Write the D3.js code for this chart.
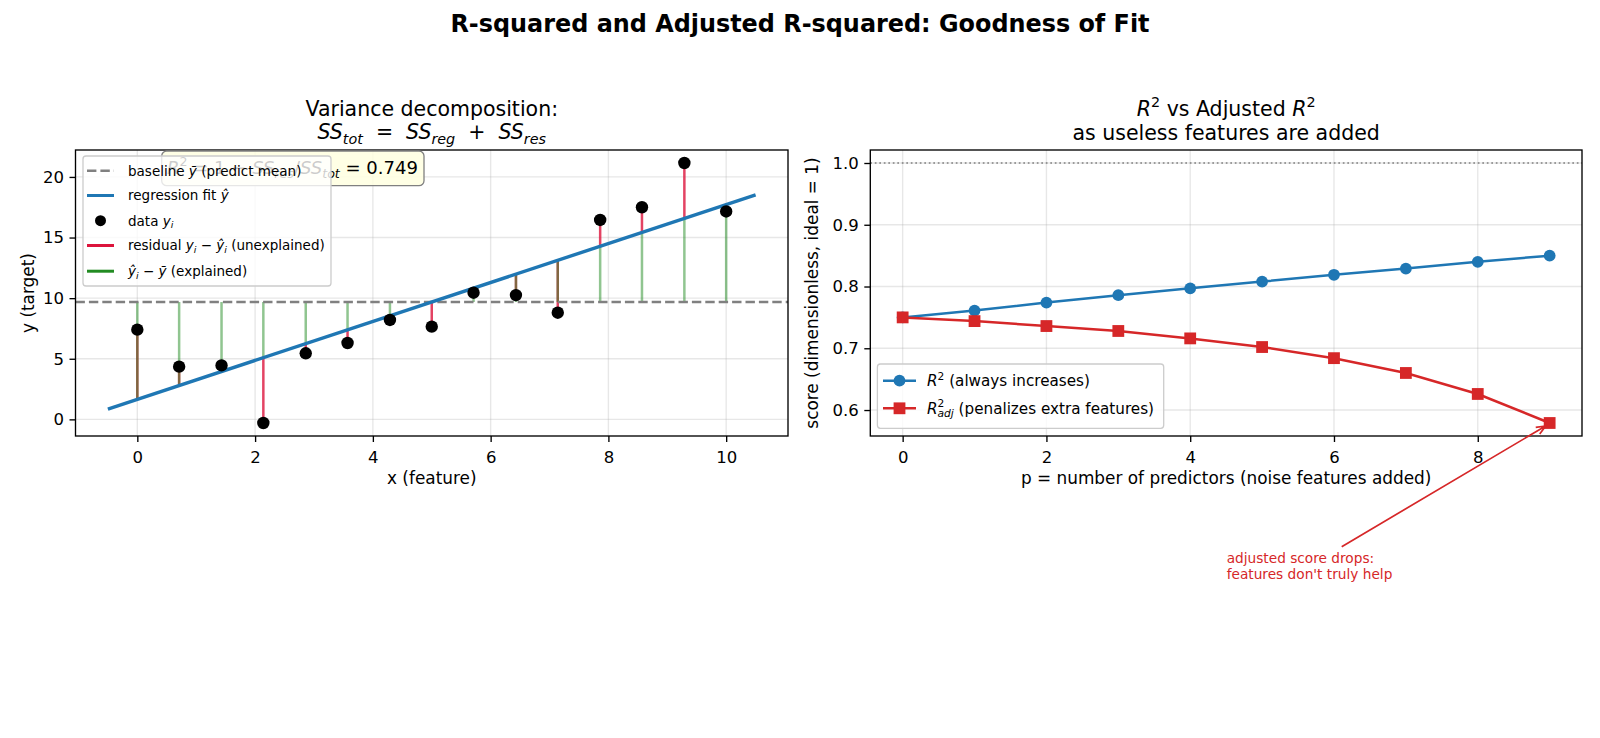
<!DOCTYPE html>
<html>
<head>
<meta charset="utf-8">
<script src="https://cdn.jsdelivr.net/npm/d3@7"></script>
<style>
body { margin: 0; background: #fff; }
text { font-family: "DejaVu Sans", sans-serif; white-space: pre; fill: #000; }
</style>
</head>
<body>
<svg width="1600" height="738"></svg>
<script>
// left panel: data points and fit
var xData = [0, 0.71, 1.43, 2.14, 2.86, 3.57, 4.29, 5.0, 5.71, 6.43, 7.14, 7.86, 8.57, 9.29, 10.0];
var yData = [7.4, 4.35, 4.45, -0.3, 5.45, 6.3, 8.2, 7.65, 10.45, 10.25, 8.8, 16.45, 17.5, 21.15, 17.15];
var fitRange = [-0.5, 10.5];
var r2Label = '0.749';
var leftXTicks = [0, 2, 4, 6, 8, 10];
var leftYTicks = [0, 5, 10, 15, 20];

// right panel: scores vs number of predictors
var predictors = [0, 1, 2, 3, 4, 5, 6, 7, 8, 9];
var r2 = [0.750, 0.761, 0.774, 0.786, 0.797, 0.808, 0.819, 0.829, 0.840, 0.850];
var r2Adj = [0.750, 0.744, 0.736, 0.728, 0.716, 0.702, 0.684, 0.660, 0.626, 0.579];
var rightXTicks = [0, 2, 4, 6, 8];
var rightYTicks = [0.6, 0.7, 0.8, 0.9, 1.0];
var idealScore = 1.0;

var svg = d3.select('svg');
var BLUE = '#1f77b4', RED = '#d62728';

// draw text with simple math parts (italic, sub, sup)
function mtext(g, x, y, size, parts, anchor) {
    var t = g.append('text').attr('x', x).attr('y', y)
        .attr('font-size', size).attr('text-anchor', anchor || 'start');
    var shift = 0;
    parts.forEach(function(p) {
        var s = t.append('tspan').text(p.t);
        var target = p.sub ? 0.22 * size : (p.sup ? -0.42 * size : 0);
        s.attr('font-size', (p.sub || p.sup) ? size * 0.7 : size);
        if (target !== shift) { s.attr('dy', target - shift); shift = target; }
        if (p.dx) s.attr('dx', p.dx);
        if (p.i) s.attr('font-style', 'italic');
    });
    return t;
}

function panel(box, xDomain, yDomain, xTicks, yTicks, yFmt, id) {
    var x = d3.scaleLinear().domain(xDomain).range([box.x0, box.x1]);
    var y = d3.scaleLinear().domain(yDomain).range([box.y1, box.y0]);
    var g = svg.append('g');
    svg.append('clipPath').attr('id', id).append('rect')
        .attr('x', box.x0).attr('y', box.y0)
        .attr('width', box.x1 - box.x0).attr('height', box.y1 - box.y0);
    // grid
    g.selectAll('.gx').data(xTicks).enter().append('line')
        .attr('x1', function(d) { return x(d); }).attr('x2', function(d) { return x(d); })
        .attr('y1', box.y0).attr('y2', box.y1)
        .attr('stroke', '#b0b0b0').attr('stroke-opacity', 0.3).attr('stroke-width', 1.35);
    g.selectAll('.gy').data(yTicks).enter().append('line')
        .attr('y1', function(d) { return y(d); }).attr('y2', function(d) { return y(d); })
        .attr('x1', box.x0).attr('x2', box.x1)
        .attr('stroke', '#b0b0b0').attr('stroke-opacity', 0.3).attr('stroke-width', 1.35);
    var plot = svg.append('g').attr('clip-path', 'url(#' + id + ')');
    var axX = svg.append('g').attr('transform', 'translate(0,' + box.y1 + ')')
        .call(d3.axisBottom(x).tickValues(xTicks).tickSize(6).tickSizeOuter(0).tickPadding(5));
    var axY = svg.append('g').attr('transform', 'translate(' + box.x0 + ',0)')
        .call(d3.axisLeft(y).tickValues(yTicks).tickFormat(yFmt).tickSize(6).tickSizeOuter(0).tickPadding(5.5));
    [axX, axY].forEach(function(a) {
        a.select('.domain').remove();
        a.selectAll('line').attr('stroke', '#000').attr('stroke-width', 1.35);
        a.selectAll('text').attr('font-size', 16.5).attr('font-family', 'DejaVu Sans').style('fill', '#000');
    });
    axX.selectAll('text').attr('dy', '0.95em');
    var over = svg.append('g');
    over.append('rect').attr('x', box.x0).attr('y', box.y0)
        .attr('width', box.x1 - box.x0).attr('height', box.y1 - box.y0)
        .attr('fill', 'none').attr('stroke', '#000').attr('stroke-width', 1.35);
    return {x: x, y: y, plot: plot, over: over};
}

// ---------- left panel ----------
var L = {x0: 75.5, x1: 788, y0: 150, y1: 436};
var yExt = d3.extent(yData), ySpan = yExt[1] - yExt[0];
var left = panel(L, [-1.05, 11.05], [yExt[0] - 0.05 * ySpan, yExt[1] + 0.05 * ySpan],
    leftXTicks, leftYTicks, d3.format('d'), 'clipL');

// least squares fit
var mx = d3.mean(xData), my = d3.mean(yData);
var sxy = d3.sum(xData, function(d, i) { return (d - mx) * (yData[i] - my); });
var sxx = d3.sum(xData, function(d) { return (d - mx) * (d - mx); });
var slope = sxy / sxx, icept = my - slope * mx;
function fit(v) { return icept + slope * v; }

var lx = left.x, ly = left.y, lp = left.plot;
lp.selectAll('.res').data(xData).enter().append('line')
    .attr('x1', function(d) { return lx(d); }).attr('x2', function(d) { return lx(d); })
    .attr('y1', function(d, i) { return ly(yData[i]); })
    .attr('y2', function(d) { return ly(fit(d)); })
    .attr('stroke', 'crimson').attr('stroke-opacity', 0.8).attr('stroke-width', 2.5);
lp.selectAll('.exp').data(xData).enter().append('line')
    .attr('x1', function(d) { return lx(d); }).attr('x2', function(d) { return lx(d); })
    .attr('y1', ly(my))
    .attr('y2', function(d) { return ly(fit(d)); })
    .attr('stroke', 'forestgreen').attr('stroke-opacity', 0.5).attr('stroke-width', 2.5);
lp.append('line').attr('x1', L.x0).attr('x2', L.x1).attr('y1', ly(my)).attr('y2', ly(my))
    .attr('stroke', 'gray').attr('stroke-width', 2.5).attr('stroke-dasharray', '9.4,4');
lp.append('path').datum(fitRange)
    .attr('d', d3.line().x(function(d) { return lx(d); }).y(function(d) { return ly(fit(d)); }))
    .attr('stroke', BLUE).attr('stroke-width', 3.4).attr('fill', 'none');
lp.selectAll('.pt').data(xData).enter().append('circle')
    .attr('cx', function(d) { return lx(d); }).attr('cy', function(d, i) { return ly(yData[i]); })
    .attr('r', 6.2).attr('fill', '#000');

// R^2 box
var lo = left.over;
lo.append('rect').attr('x', 161.7).attr('y', 151).attr('width', 262.3).attr('height', 34.7)
    .attr('rx', 5).attr('fill', '#ffffe0').attr('fill-opacity', 0.85)
    .attr('stroke', '#808080').attr('stroke-width', 1.3);
var boxParts = [{t: 'R', i: 1}, {t: '2', sup: 1}, {t: ' = 1 \u2212 '}, {t: 'SS', i: 1},
    {t: 'res', i: 1, sub: 1}, {t: '/'}, {t: 'SS', i: 1}, {t: 'tot', i: 1, sub: 1}, {t: ' = ' + r2Label}];
var bt = mtext(lo, 167, 174, 18.6, boxParts);
var bw = bt.node().getComputedTextLength();
bt.remove();
mtext(lo, 167, 174, 18.6 * 251 / bw, boxParts);

// left legend
lo.append('rect').attr('x', 83).attr('y', 156).attr('width', 248).attr('height', 130)
    .attr('rx', 3).attr('fill', '#fff').attr('fill-opacity', 0.8)
    .attr('stroke', '#cccccc').attr('stroke-width', 1.3);
var legRows = [170.7, 195.5, 220.7, 245.5, 271.2];
var legL = [
    {kind: 'dash', color: 'gray', parts: [{t: 'baseline '}, {t: 'y\u0304', i: 1}, {t: ' (predict mean)'}]},
    {kind: 'line', color: BLUE, parts: [{t: 'regression fit '}, {t: '\u0177', i: 1}]},
    {kind: 'dot', color: '#000', parts: [{t: 'data '}, {t: 'y', i: 1}, {t: 'i', i: 1, sub: 1}]},
    {kind: 'line', color: 'crimson', parts: [{t: 'residual '}, {t: 'y', i: 1}, {t: 'i', i: 1, sub: 1},
        {t: ' \u2212 '}, {t: '\u0177', i: 1}, {t: 'i', i: 1, sub: 1}, {t: ' (unexplained)'}]},
    {kind: 'line', color: 'forestgreen', parts: [{t: '\u0177', i: 1}, {t: 'i', i: 1, sub: 1},
        {t: ' \u2212 '}, {t: 'y\u0304', i: 1}, {t: ' (explained)'}]}
];
legL.forEach(function(d, i) {
    var cy = legRows[i];
    if (d.kind === 'dot') {
        lo.append('circle').attr('cx', 100.5).attr('cy', cy).attr('r', 5.5).attr('fill', d.color);
    } else {
        lo.append('line').attr('x1', 87).attr('x2', 114).attr('y1', cy).attr('y2', cy)
            .attr('stroke', d.color).attr('stroke-width', d.kind === 'dash' ? 2.5 : 3)
            .attr('stroke-dasharray', d.kind === 'dash' ? '9.4,4' : null);
    }
    mtext(lo, 128, cy + 4.8, 13.5, d.parts);
});

// left titles and labels
mtext(svg, (L.x0 + L.x1) / 2, 116, 20.5, [{t: 'Variance decomposition:'}], 'middle');
mtext(svg, (L.x0 + L.x1) / 2, 139, 20.5, [{t: 'SS', i: 1}, {t: 'tot', i: 1, sub: 1}, {t: '  =  '},
    {t: 'SS', i: 1}, {t: 'reg', i: 1, sub: 1}, {t: '  +  '}, {t: 'SS', i: 1}, {t: 'res', i: 1, sub: 1}], 'middle');
svg.append('text').attr('x', (L.x0 + L.x1) / 2).attr('y', 484).attr('font-size', 16.9)
    .attr('text-anchor', 'middle').text('x (feature)');
svg.append('text').attr('transform', 'translate(34,' + (L.y0 + L.y1) / 2 + ') rotate(-90)')
    .attr('font-size', 16.9).attr('text-anchor', 'middle').text('y (target)');

// ---------- right panel ----------
var R = {x0: 870.3, x1: 1582, y0: 150, y1: 436};
var sLo = d3.min(r2Adj), sHi = idealScore, sSpan = sHi - sLo;
var right = panel(R, [-0.45, 9.45], [sLo - 0.05 * sSpan, sHi + 0.05 * sSpan],
    rightXTicks, rightYTicks, d3.format('.1f'), 'clipR');
var rx = right.x, ry = right.y, rp = right.plot;
rp.append('line').attr('x1', R.x0).attr('x2', R.x1).attr('y1', ry(idealScore)).attr('y2', ry(idealScore))
    .attr('stroke', 'gray').attr('stroke-width', 1.7).attr('stroke-dasharray', '1.7,2.8');
var rLine = d3.line().x(function(d) { return rx(d[0]); }).y(function(d) { return ry(d[1]); });
var r2Pts = predictors.map(function(p, i) { return [p, r2[i]]; });
var adjPts = predictors.map(function(p, i) { return [p, r2Adj[i]]; });
rp.append('path').datum(r2Pts).attr('d', rLine).attr('fill', 'none').attr('stroke', BLUE).attr('stroke-width', 2.5);
rp.selectAll('.c').data(r2Pts).enter().append('circle')
    .attr('cx', function(d) { return rx(d[0]); }).attr('cy', function(d) { return ry(d[1]); })
    .attr('r', 5.9).attr('fill', BLUE);
rp.append('path').datum(adjPts).attr('d', rLine).attr('fill', 'none').attr('stroke', RED).attr('stroke-width', 2.5);
rp.selectAll('.s').data(adjPts).enter().append('rect')
    .attr('x', function(d) { return rx(d[0]) - 5.9; }).attr('y', function(d) { return ry(d[1]) - 5.9; })
    .attr('width', 11.8).attr('height', 11.8).attr('fill', RED);

// right legend
var ro = right.over;
var rlSize = 15.2;
ro.append('rect').attr('x', 877.4).attr('y', 364).attr('width', 286.3).attr('height', 64.3)
    .attr('rx', 3).attr('fill', '#fff').attr('fill-opacity', 0.8)
    .attr('stroke', '#cccccc').attr('stroke-width', 1.3);
[{cy: 380.7, color: BLUE, mark: 'o', parts: [{t: 'R', i: 1}, {t: '2', sup: 1}, {t: ' (always increases)'}]},
 {cy: 408.3, color: RED, mark: 's', parts: [{t: 'R', i: 1}, {t: '2', sup: 1},
    {t: 'adj', i: 1, sub: 1, dx: -0.636 * 0.7 * rlSize}, {t: ' (penalizes extra features)'}]}
].forEach(function(d) {
    ro.append('line').attr('x1', 883).attr('x2', 916).attr('y1', d.cy).attr('y2', d.cy)
        .attr('stroke', d.color).attr('stroke-width', 2.5);
    if (d.mark === 'o') ro.append('circle').attr('cx', 899.5).attr('cy', d.cy).attr('r', 5.9).attr('fill', d.color);
    else ro.append('rect').attr('x', 893.6).attr('y', d.cy - 5.9).attr('width', 11.8).attr('height', 11.8).attr('fill', d.color);
    mtext(ro, 927, d.cy + 5.2, rlSize, d.parts);
});

// right titles and labels
mtext(svg, (R.x0 + R.x1) / 2, 116, 20.5, [{t: 'R', i: 1}, {t: '2', sup: 1}, {t: ' vs Adjusted '},
    {t: 'R', i: 1}, {t: '2', sup: 1}], 'middle');
mtext(svg, (R.x0 + R.x1) / 2, 140, 20.5, [{t: 'as useless features are added'}], 'middle');
svg.append('text').attr('x', (R.x0 + R.x1) / 2).attr('y', 484).attr('font-size', 16.9)
    .attr('text-anchor', 'middle').text('p = number of predictors (noise features added)');
svg.append('text').attr('transform', 'translate(818,' + (R.y0 + R.y1) / 2 + ') rotate(-90)')
    .attr('font-size', 16.9).attr('text-anchor', 'middle').text('score (dimensionless, ideal = 1)');

// annotation
var last = adjPts[adjPts.length - 1];
var ax0 = 1341.7, ay0 = 546.7, ax1 = rx(last[0]) - 4, ay1 = ry(last[1]) + 3;
var ang = Math.atan2(ay1 - ay0, ax1 - ax0), hl = 10;
svg.append('path')
    .attr('d', 'M' + ax0 + ',' + ay0 + 'L' + ax1 + ',' + ay1 +
        'M' + (ax1 - hl * Math.cos(ang - 0.4)) + ',' + (ay1 - hl * Math.sin(ang - 0.4)) +
        'L' + ax1 + ',' + ay1 +
        'L' + (ax1 - hl * Math.cos(ang + 0.4)) + ',' + (ay1 - hl * Math.sin(ang + 0.4)))
    .attr('fill', 'none').attr('stroke', RED).attr('stroke-width', 1.7);
svg.append('text').attr('x', 1226.7).attr('y', 563).attr('font-size', 13.7).style('fill', RED)
    .text('adjusted score drops:');
svg.append('text').attr('x', 1226.7).attr('y', 579).attr('font-size', 13.7).style('fill', RED)
    .text("features don't truly help");

// suptitle
svg.append('text').attr('x', 800).attr('y', 32).attr('font-size', 23.9).attr('font-weight', 'bold')
    .attr('text-anchor', 'middle').text('R-squared and Adjusted R-squared: Goodness of Fit');
</script>
</body>
</html>
